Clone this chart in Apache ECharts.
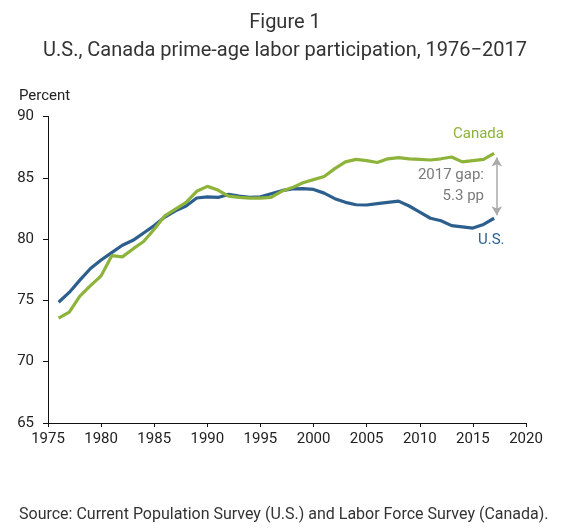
<!DOCTYPE html>
<html>
<head>
<meta charset="utf-8">
<script src="https://cdn.jsdelivr.net/npm/echarts@6/dist/echarts.min.js"></script>
<style>
html,body{margin:0;padding:0;background:#fff;}
#chart{width:570px;height:531px;}
</style>
</head>
<body>
<div id="chart"></div>
<script>
const years = [1976,1977,1978,1979,1980,1981,1982,1983,1984,1985,1986,1987,1988,1989,1990,1991,1992,1993,1994,1995,1996,1997,1998,1999,2000,2001,2002,2003,2004,2005,2006,2007,2008,2009,2010,2011,2012,2013,2014,2015,2016,2017];
const usValues = [74.85,75.65,76.65,77.6,78.3,78.9,79.5,79.9,80.5,81.1,81.8,82.3,82.7,83.35,83.45,83.4,83.65,83.5,83.4,83.45,83.7,83.95,84.1,84.12,84.05,83.75,83.3,83.0,82.8,82.78,82.9,83.0,83.1,82.7,82.2,81.7,81.5,81.1,81.0,80.9,81.2,81.7];
const canadaValues = [73.55,74.05,75.35,76.2,77.0,78.65,78.55,79.2,79.8,80.8,81.9,82.45,83.0,83.9,84.3,84.0,83.5,83.4,83.35,83.35,83.4,83.9,84.2,84.6,84.85,85.1,85.75,86.3,86.5,86.4,86.25,86.55,86.65,86.55,86.5,86.45,86.55,86.7,86.3,86.4,86.5,87.0];
const xTicks = {min:1975, max:2020, interval:5};
const yTicks = {min:65, max:90, interval:5};
const gapLabel = ['2017 gap:', '5.3 pp'];
const gapEnds = [86.65, 81.95];

const pair = (vals) => years.map((y,i)=>[y, vals[i]]);
const chart = echarts.init(document.getElementById('chart'), null, {renderer:'canvas'});
const font = 'Roboto, "Liberation Sans", sans-serif';
chart.setOption({
  animation:false,
  textStyle:{fontFamily:font},
  title:[
    {text:'Figure 1', left:'center', top:8, textStyle:{fontFamily:font, fontSize:20, fontWeight:'normal', color:'#333'}},
    {text:'U.S., Canada prime-age labor participation, 1976\u22122017', left:'center', top:36, textStyle:{fontFamily:font, fontSize:20, fontWeight:'normal', color:'#333'}}
  ],
  grid:{left:48, right:44, top:116.5, bottom:108},
  xAxis:{type:'value', min:xTicks.min, max:xTicks.max, interval:xTicks.interval,
    axisLine:{show:true, lineStyle:{color:'#111', width:1}},
    axisTick:{show:true, length:4, lineStyle:{color:'#111'}},
    splitLine:{show:false},
    axisLabel:{color:'#222', fontSize:15, margin:9, fontFamily:font, formatter:(v)=>String(v)}},
  yAxis:{type:'value', min:yTicks.min, max:yTicks.max, interval:yTicks.interval,
    axisLine:{show:true, lineStyle:{color:'#111', width:1}},
    axisTick:{show:true, length:5, lineStyle:{color:'#111'}},
    splitLine:{show:false},
    axisLabel:{color:'#222', fontSize:15, margin:14, fontFamily:font, formatter:(v)=>String(v)}},
  graphic:[
    {type:'text', left:19, top:89, style:{text:'Percent', fontSize:15, fill:'#222', fontFamily:font}},
    {type:'text', left:453, top:127, style:{text:'Canada', fontSize:15, fill:'#8db33a', fontFamily:font}},
    {type:'text', left:478, top:233, style:{text:'U.S.', fontSize:15, fill:'#2d5f8e', fontFamily:font}},
    {type:'text', right:86, top:168, style:{text:gapLabel[0], fontSize:15, fill:'#7a7a7a', fontFamily:font, align:'right'}},
    {type:'text', right:86, top:189, style:{text:gapLabel[1], fontSize:15, fill:'#7a7a7a', fontFamily:font, align:'right'}},
    {type:'text', left:19, top:507, style:{text:'Source: Current Population Survey (U.S.) and Labor Force Survey (Canada).', fontSize:16, fill:'#333', fontFamily:font}}
  ],
  series:[
    {name:'U.S.', type:'line', data:pair(usValues), showSymbol:false, lineStyle:{color:'#2d5f8e', width:3.2}, itemStyle:{color:'#2d5f8e'}, z:2},
    {name:'Canada', type:'line', data:pair(canadaValues), showSymbol:false, lineStyle:{color:'#8db33a', width:3.2}, itemStyle:{color:'#8db33a'}, z:3,
      markLine:{silent:true, symbol:['arrow','arrow'], symbolSize:[8,9], label:{show:false},
        lineStyle:{color:'#a9a9a9', width:1.5, type:'solid'},
        data:[[{coord:[2017.25, gapEnds[0]]},{coord:[2017.25, gapEnds[1]]}]]}}
  ]
});
</script>
</body>
</html>
